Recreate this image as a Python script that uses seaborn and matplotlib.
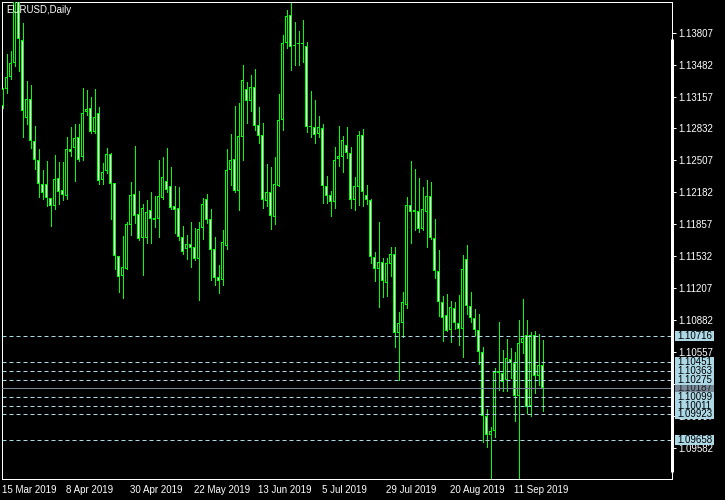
import numpy as np
import pandas as pd
import seaborn as sns
import matplotlib.pyplot as plt
from matplotlib.patches import Rectangle

# EURUSD daily candles, 15 Mar 2019 .. 20 Sep 2019
opens = [1.1306, 1.1323, 1.1336, 1.1350, 1.1418, 1.1373, 1.1294, 1.1313, 1.1270, 1.1251,
         1.1227, 1.1227, 1.1212, 1.1204, 1.1233, 1.1221, 1.1214, 1.1262, 1.1263, 1.1275,
         1.1254, 1.1300, 1.1304, 1.1280, 1.1299, 1.1231, 1.1240, 1.1257, 1.1228, 1.1153,
         1.1133, 1.1140, 1.1185, 1.1216, 1.1196, 1.1172, 1.1172, 1.1200, 1.1192, 1.1191,
         1.1212, 1.1230, 1.1225, 1.1204, 1.1202, 1.1173, 1.1160, 1.1166, 1.1162, 1.1150,
         1.1182, 1.1211, 1.1191, 1.1160, 1.1132, 1.1129, 1.1164, 1.1241, 1.1252, 1.1220,
         1.1275, 1.1323, 1.1311, 1.1325, 1.1287, 1.1277, 1.1209, 1.1218, 1.1193, 1.1225,
         1.1292, 1.1370, 1.1399, 1.1368, 1.1370, 1.1369, 1.1367, 1.1286, 1.1285, 1.1278,
         1.1284, 1.1225, 1.1215, 1.1208, 1.1252, 1.1254, 1.1266, 1.1258, 1.1210, 1.1224,
         1.1277, 1.1215, 1.1210, 1.1152, 1.1140, 1.1147, 1.1126, 1.1145, 1.1155, 1.1075,
         1.1085, 1.1103, 1.1205, 1.1198, 1.1199, 1.1181, 1.1198, 1.1214, 1.1172, 1.1138,
         1.1106, 1.1093, 1.1078, 1.1100, 1.1085, 1.1079, 1.1150, 1.1102, 1.1090, 1.1078,
         1.1056, 1.0990, 1.0971, 1.0975, 1.1036, 1.1034, 1.1027, 1.1048, 1.1044, 1.1011,
         1.1065, 1.1073, 1.1001, 1.1073, 1.1031, 1.1042]
highs = [1.1324, 1.1359, 1.1362, 1.1448, 1.1450, 1.1391, 1.1332, 1.1327, 1.1286, 1.1262,
         1.1241, 1.1250, 1.1212, 1.1256, 1.1249, 1.1249, 1.1275, 1.1285, 1.1288, 1.1288,
         1.1324, 1.1322, 1.1315, 1.1323, 1.1305, 1.1248, 1.1263, 1.1258, 1.1228, 1.1153,
         1.1174, 1.1188, 1.1229, 1.1265, 1.1220, 1.1206, 1.1210, 1.1219, 1.1214, 1.1251,
         1.1254, 1.1263, 1.1244, 1.1225, 1.1224, 1.1184, 1.1175, 1.1188, 1.1182, 1.1188,
         1.1212, 1.1216, 1.1201, 1.1173, 1.1144, 1.1180, 1.1262, 1.1278, 1.1306, 1.1309,
         1.1348, 1.1331, 1.1338, 1.1344, 1.1305, 1.1289, 1.1247, 1.1244, 1.1254, 1.1318,
         1.1378, 1.1404, 1.1411, 1.1392, 1.1382, 1.1394, 1.1371, 1.1321, 1.1312, 1.1296,
         1.1288, 1.1235, 1.1220, 1.1264, 1.1286, 1.1276, 1.1285, 1.1264, 1.1234, 1.1281,
         1.1283, 1.1226, 1.1211, 1.1157, 1.1188, 1.1151, 1.1151, 1.1162, 1.1163, 1.1096,
         1.1117, 1.1213, 1.1250, 1.1242, 1.1233, 1.1224, 1.1231, 1.1229, 1.1191, 1.1159,
         1.1113, 1.1115, 1.1108, 1.1107, 1.1114, 1.1154, 1.1165, 1.1117, 1.1099, 1.1094,
         1.1061, 1.0998, 1.0979, 1.1039, 1.1086, 1.1058, 1.1069, 1.1060, 1.1056, 1.1088,
         1.1110, 1.1088, 1.1076, 1.1077, 1.1074, 1.1068]
lows = [1.1304, 1.1319, 1.1334, 1.1347, 1.1342, 1.1274, 1.1288, 1.1263, 1.1242, 1.1213,
        1.1211, 1.1204, 1.1184, 1.1201, 1.1206, 1.1210, 1.1211, 1.1255, 1.1230, 1.1250,
        1.1251, 1.1297, 1.1279, 1.1279, 1.1227, 1.1227, 1.1238, 1.1191, 1.1140, 1.1117,
        1.1111, 1.1140, 1.1175, 1.1187, 1.1170, 1.1134, 1.1167, 1.1167, 1.1183, 1.1173,
        1.1211, 1.1218, 1.1201, 1.1177, 1.1170, 1.1155, 1.1150, 1.1142, 1.1149, 1.1109,
        1.1171, 1.1187, 1.1129, 1.1124, 1.1116, 1.1124, 1.1160, 1.1226, 1.1219, 1.1200,
        1.1251, 1.1289, 1.1301, 1.1282, 1.1268, 1.1202, 1.1204, 1.1181, 1.1186, 1.1225,
        1.1282, 1.1365, 1.1343, 1.1348, 1.1348, 1.1351, 1.1280, 1.1275, 1.1268, 1.1274,
        1.1207, 1.1207, 1.1194, 1.1202, 1.1245, 1.1239, 1.1253, 1.1202, 1.1200, 1.1205,
        1.1204, 1.1206, 1.1146, 1.1128, 1.1101, 1.1112, 1.1113, 1.1133, 1.1061, 1.1027,
        1.1071, 1.1100, 1.1167, 1.1180, 1.1178, 1.1180, 1.1163, 1.1171, 1.1131, 1.1092,
        1.1067, 1.1077, 1.1066, 1.1079, 1.1063, 1.1051, 1.1094, 1.1086, 1.1073, 1.1043,
        1.0964, 1.0959, 1.0926, 1.0969, 1.1017, 1.1016, 1.1016, 1.1029, 1.0985, 1.0927,
        1.1055, 1.0993, 1.0990, 1.1014, 1.1022, 1.0996]
closes = [1.1323, 1.1336, 1.1350, 1.1418, 1.1374, 1.1301, 1.1313, 1.1270, 1.1251, 1.1227,
          1.1217, 1.1212, 1.1204, 1.1232, 1.1219, 1.1215, 1.1262, 1.1259, 1.1273, 1.1251,
          1.1299, 1.1303, 1.1280, 1.1295, 1.1230, 1.1239, 1.1257, 1.1227, 1.1153, 1.1132,
          1.1142, 1.1186, 1.1215, 1.1194, 1.1171, 1.1202, 1.1198, 1.1191, 1.1190, 1.1214,
          1.1234, 1.1221, 1.1202, 1.1200, 1.1173, 1.1157, 1.1166, 1.1161, 1.1150, 1.1181,
          1.1206, 1.1190, 1.1159, 1.1131, 1.1128, 1.1168, 1.1241, 1.1251, 1.1220, 1.1276,
          1.1333, 1.1311, 1.1325, 1.1286, 1.1276, 1.1210, 1.1219, 1.1194, 1.1227, 1.1292,
          1.1370, 1.1398, 1.1366, 1.1367, 1.1369, 1.1370, 1.1285, 1.1285, 1.1277, 1.1285,
          1.1225, 1.1214, 1.1208, 1.1251, 1.1255, 1.1271, 1.1258, 1.1210, 1.1225, 1.1277,
          1.1219, 1.1210, 1.1152, 1.1140, 1.1147, 1.1128, 1.1146, 1.1155, 1.1075, 1.1085,
          1.1106, 1.1205, 1.1198, 1.1200, 1.1181, 1.1201, 1.1214, 1.1172, 1.1138, 1.1106,
          1.1090, 1.1077, 1.1101, 1.1085, 1.1079, 1.1140, 1.1102, 1.1090, 1.1078, 1.1056,
          1.0990, 1.0971, 1.0975, 1.1035, 1.1034, 1.1025, 1.1049, 1.1044, 1.1011, 1.1065,
          1.1070, 1.1000, 1.1073, 1.1031, 1.1042, 1.1019]

date_labels = ['15 Mar 2019', '8 Apr 2019', '30 Apr 2019', '22 May 2019', '13 Jun 2019',
               '5 Jul 2019', '29 Jul 2019', '20 Aug 2019', '11 Sep 2019']
price_ticks = [1.13807, 1.13482, 1.13157, 1.12832, 1.12507, 1.12182, 1.11857,
               1.11532, 1.11207, 1.10882, 1.10557, 1.10232, 1.09907, 1.09582]
levels = [1.10716, 1.10451, 1.10363, 1.10275, 1.10099, 1.10011, 1.09923, 1.09658]
bid = 1.10187

sns.set_theme(style='dark', rc={'axes.facecolor': 'black', 'figure.facecolor': 'black',
                                'axes.edgecolor': 'white', 'axes.grid': False,
                                'xtick.color': 'white', 'ytick.color': 'white'})
plt.rcParams['font.family'] = ['Liberation Sans', 'DejaVu Sans']

df = pd.DataFrame({'Open': opens, 'High': highs, 'Low': lows, 'Close': closes})
df['bar'] = np.arange(len(df))
df['bull'] = df['Close'] >= df['Open']

px = 0.72  # one pixel in points at 100 dpi
green = '#00ff00'
y0, y1 = 1.092629, 1.141196
ypx = (y1 - y0) / 477  # one pixel in price units

fig = plt.figure(figsize=(7.25, 5), dpi=100)
ax = fig.add_axes([2 / 725, 21 / 500, 670 / 725, 477 / 500])

# wicks
ax.vlines(df['bar'], df['Low'], df['High'], color=green, lw=px, zorder=2, antialiased=False)

# bodies: green 3px frame, 1px inner column black (bull) or white (bear)
bottoms = df[['Open', 'Close']].min(axis=1)
heights = (df['Close'] - df['Open']).abs()
ax.bar(df['bar'], heights.clip(lower=ypx), bottom=bottoms, width=0.75, color=green,
       linewidth=0, zorder=3, antialiased=False)
inner = heights > 2 * ypx
ax.bar(df['bar'][inner], heights[inner] - 2 * ypx, bottom=bottoms[inner] + ypx, width=0.25,
       color=np.where(df['bull'][inner], 'black', 'white'), linewidth=0, zorder=3.5,
       antialiased=False)

# horizontal levels
for lv in levels:
    ax.axhline(lv, color='#add8e6', lw=px, linestyle=(0, (4, 3)), zorder=4)
ax.axhline(bid, color='#778899', lw=px, zorder=4)

ax.set_xlim(-0.125, 167.375)
ax.set_ylim(y0, y1)

ax.set_xticks(np.arange(len(date_labels)) * 16)
ax.set_xticklabels(date_labels, fontsize=7, color='white', ha='left')
ax.set_yticks(price_ticks)
ax.set_yticklabels([f'{t:.5f}' for t in price_ticks], fontsize=7, color='white')
ax.yaxis.tick_right()
ax.tick_params(axis='x', direction='out', length=3.6, width=px, color='white', pad=1)
ax.tick_params(axis='y', direction='out', length=2.9, width=px, color='white', pad=1.5,
               right=True, left=False, labelright=True, labelleft=False)
for s in ax.spines.values():
    s.set_color('white')
    s.set_linewidth(px)

# thick part of the right border
ax.plot([1.0, 1.0], [7 / 477, 440 / 477], transform=ax.transAxes, color='white',
        lw=3 * px, solid_capstyle='butt', clip_on=False, zorder=6)

# price labels on the right
ytr = ax.get_yaxis_transform()
box_h = 10 * ypx
bx0 = (675 - 2) / 670
bw = 39 / 670
ax.add_patch(Rectangle((bx0, bid - box_h / 2), bw, box_h, transform=ytr, fc='#778899',
                       ec='none', clip_on=False, zorder=7))
ax.text(bx0 + 2 / 670, bid, f'{bid:.5f}', transform=ytr, fontsize=7, color='#1e1e1e',
        va='center', ha='left', clip_on=False, zorder=7.1)
for i, lv in enumerate(levels):
    z = 8 + i * 0.2
    ax.add_patch(Rectangle((bx0, lv - box_h / 2), bw, box_h, transform=ytr, fc='#add8e6',
                           ec='none', clip_on=False, zorder=z))
    ax.text(bx0 + 2 / 670, lv, f'{lv:.5f}', transform=ytr, fontsize=7, color='black',
            va='center', ha='left', clip_on=False, zorder=z + 0.1)

ax.text(4 / 670, 469 / 477, 'EURUSD,Daily', transform=ax.transAxes, fontsize=7,
        color='white', va='center', ha='left', zorder=9)

fig.savefig('out.png', dpi=100, facecolor='black')
